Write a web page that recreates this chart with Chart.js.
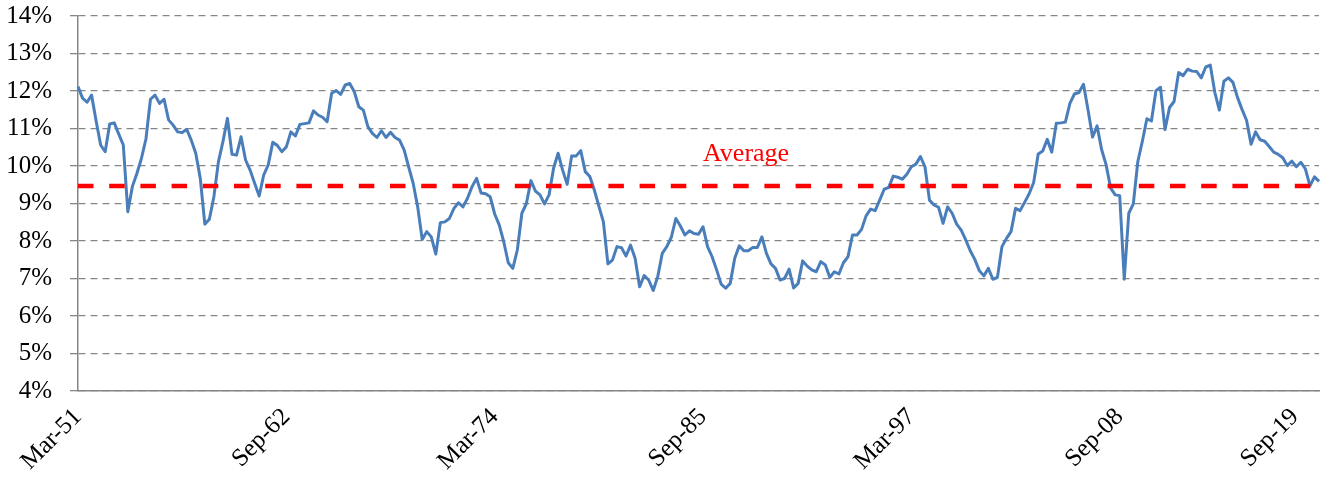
<!DOCTYPE html>
<html>
<head>
<meta charset="utf-8">
<script src="https://cdn.jsdelivr.net/npm/chart.js@4.4.0/dist/chart.umd.min.js"></script>
<style>
  html, body { margin: 0; padding: 0; background: #fff; }
  #wrap { width: 1323px; height: 479px; }
</style>
</head>
<body>
<div id="wrap"><canvas id="chart" width="1323" height="479"></canvas></div>
<script>
// quarterly rate, Mar-51 .. Sep-19 (%)
const rates = [
  12.12, 11.81, 11.70, 11.89, 11.20, 10.56, 10.38, 11.12, 11.15, 10.85,
  10.56, 8.78, 9.45, 9.80, 10.20, 10.72, 11.78, 11.89, 11.67, 11.78,
  11.23, 11.09, 10.91, 10.89, 10.98, 10.69, 10.34, 9.67, 8.45, 8.58,
  9.18, 10.11, 10.65, 11.27, 10.31, 10.29, 10.78, 10.16, 9.89, 9.54,
  9.20, 9.76, 10.03, 10.63, 10.55, 10.38, 10.51, 10.91, 10.80, 11.11,
  11.13, 11.15, 11.47, 11.36, 11.30, 11.18, 11.94, 12.01, 11.91, 12.16,
  12.20, 11.98, 11.58, 11.49, 11.05, 10.87, 10.76, 10.94, 10.76, 10.90,
  10.76, 10.69, 10.43, 9.98, 9.54, 8.91, 8.04, 8.25, 8.11, 7.65,
  8.49, 8.51, 8.60, 8.87, 9.02, 8.91, 9.14, 9.45, 9.67, 9.28,
  9.26, 9.18, 8.72, 8.43, 7.98, 7.42, 7.27, 7.76, 8.74, 9.00,
  9.61, 9.33, 9.23, 8.99, 9.23, 9.94, 10.34, 9.89, 9.51, 10.27,
  10.27, 10.41, 9.85, 9.72, 9.36, 8.93, 8.51, 7.39, 7.49, 7.85,
  7.82, 7.60, 7.89, 7.54, 6.78, 7.08, 6.96, 6.68, 7.05, 7.67,
  7.85, 8.10, 8.60, 8.40, 8.16, 8.27, 8.20, 8.18, 8.38, 7.85,
  7.58, 7.23, 6.85, 6.74, 6.87, 7.54, 7.87, 7.74, 7.74, 7.83,
  7.83, 8.11, 7.67, 7.39, 7.27, 6.96, 7.00, 7.25, 6.75, 6.87,
  7.47, 7.33, 7.23, 7.18, 7.45, 7.36, 7.03, 7.18, 7.12, 7.42,
  7.58, 8.16, 8.16, 8.31, 8.67, 8.85, 8.81, 9.09, 9.38, 9.43,
  9.73, 9.70, 9.65, 9.78, 9.98, 10.05, 10.25, 9.98, 9.09, 8.96,
  8.90, 8.47, 8.91, 8.74, 8.45, 8.29, 8.03, 7.74, 7.51, 7.21,
  7.07, 7.27, 6.98, 7.03, 7.85, 8.07, 8.25, 8.87, 8.81, 9.03,
  9.26, 9.56, 10.32, 10.40, 10.71, 10.37, 11.14, 11.15, 11.17, 11.67,
  11.92, 11.96, 12.18, 11.50, 10.77, 11.07, 10.44, 10.03, 9.41, 9.23,
  9.21, 6.98, 8.74, 8.99, 10.12, 10.66, 11.26, 11.20, 12.01, 12.10,
  10.97, 11.56, 11.72, 12.49, 12.41, 12.58, 12.53, 12.52, 12.35, 12.64,
  12.69, 11.96, 11.49, 12.26, 12.35, 12.23, 11.83, 11.51, 11.22, 10.58,
  10.91, 10.70, 10.66, 10.52, 10.37, 10.31, 10.22, 10.01, 10.13, 9.98,
  10.10, 9.92, 9.47, 9.71, 9.59
];

const AVERAGE = 9.47;

// axis labels shown every 46 quarters, plus the last quarter
const tickIndex = [0, 46, 92, 138, 184, 230, 274];

const months = ["Mar", "Jun", "Sep", "Dec"];
const quarters = rates.map((v, i) => {
  const yr = (1951 + Math.floor(i / 4)) % 100;
  return months[i % 4] + "-" + String(yr).padStart(2, "0");
});

const serif = '"Liberation Serif", "Times New Roman", serif';
const gridGrey = "#868686";

// rotated x labels, drawn like Excel does (last one pulled in so it fits)
const xLabels = {
  id: "xLabels",
  afterDraw(chart) {
    const ctx = chart.ctx;
    const xs = chart.scales.x;
    const area = chart.chartArea;
    ctx.save();
    ctx.font = "25px " + serif;
    ctx.fillStyle = "#000";
    ctx.textAlign = "right";
    ctx.textBaseline = "middle";
    tickIndex.forEach((idx, k) => {
      let x = xs.getPixelForValue(idx);
      if (k === tickIndex.length - 1) x -= 24;
      ctx.save();
      ctx.translate(x, area.bottom + 22);
      ctx.rotate(-Math.PI / 4);
      ctx.fillText(quarters[idx], 0, 0);
      ctx.restore();
    });

    // "Average" caption above the dashed line
    const ys = chart.scales.y;
    ctx.font = "26px " + serif;
    ctx.fillStyle = "#ff0000";
    ctx.textAlign = "left";
    ctx.textBaseline = "alphabetic";
    ctx.fillText("Average", area.left + 625, ys.getPixelForValue(AVERAGE) - 25);
    ctx.restore();
  }
};

const data = {
  labels: quarters,
  datasets: [
    {
      label: "Rate",
      data: rates,
      borderColor: "#4a7ebb",
      borderWidth: 3,
      borderJoinStyle: "round",
      pointRadius: 0,
      tension: 0,
      fill: false,
      order: 2
    },
    {
      label: "Average",
      data: [
        { x: quarters[0], y: AVERAGE },
        { x: quarters[quarters.length - 1], y: AVERAGE }
      ],
      borderColor: "#ff0000",
      borderWidth: 4.5,
      borderDash: [15.5, 15.7],
      pointRadius: 0,
      fill: false,
      order: 1
    }
  ]
};

const config = {
  type: "line",
  data: data,
  options: {
    responsive: false,
    animation: false,
    devicePixelRatio: 1,
    layout: { padding: { top: 16, right: 4, left: 0, bottom: 0 } },
    plugins: {
      legend: { display: false },
      tooltip: { enabled: false }
    },
    scales: {
      x: {
        type: "category",
        offset: false,
        grid: { display: false },
        border: { display: true, color: gridGrey, width: 1.5 },
        ticks: { display: false },
        afterFit(scale) { scale.height = 88; }
      },
      y: {
        min: 4,
        max: 14,
        grid: {
          color: gridGrey,
          lineWidth: 1.3,
          tickLength: 8,
          tickColor: gridGrey,
          tickWidth: 1.3,
          tickBorderDash: []
        },
        border: { display: true, color: gridGrey, width: 1.5, dash: [7, 5] },
        ticks: {
          stepSize: 1,
          padding: 18,
          color: "#000",
          font: { family: serif, size: 25 },
          callback: (v) => v + "%"
        },
        afterFit(scale) {
          scale.width = 78;
          // the label padding would push the plot down; the top is set by layout padding
          scale.paddingTop = 0;
          scale.paddingBottom = 0;
        }
      }
    }
  },
  plugins: [xLabels]
};

new Chart(document.getElementById("chart"), config);
</script>
</body>
</html>
